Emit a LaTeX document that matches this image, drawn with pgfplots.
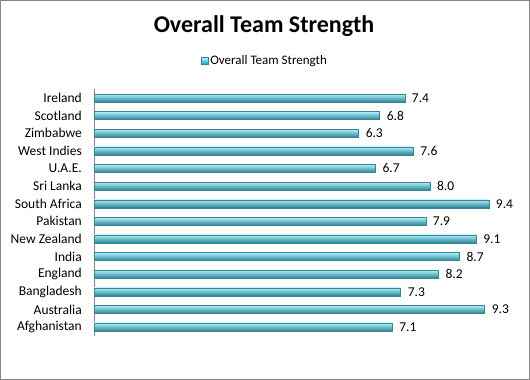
\documentclass[border=0pt]{standalone}
\usepackage{pgfplots}
\pgfplotsset{compat=1.18}
\usepackage{fontspec}
\setmainfont{Carlito}
\definecolor{barTop}{RGB}{175,240,250}
\definecolor{barMid}{RGB}{85,208,228}
\definecolor{barBot}{RGB}{45,130,148}
\definecolor{barEdge}{RGB}{50,135,150}
\definecolor{frameGray}{RGB}{134,134,134}
\definecolor{axisGray}{RGB}{134,134,134}
\begin{document}
\begin{tikzpicture}[x=1pt,y=1pt]
\useasboundingbox (0,0) rectangle (530,380);
\draw[frameGray, line width=1pt] (0.5,0.5) rectangle (529.5,379.5);
\node[font=\fontsize{24}{28}\selectfont\bfseries] at (264,354) {Overall Team Strength};
\begin{axis}[
  at={(94pt,44.2pt)}, anchor=south west,
  scale only axis, width=420pt, height=246.6pt,
  xmin=0, xmax=10, ymin=-0.5, ymax=13.5,
  axis x line=none, axis y line=left,
  y axis line style={-, draw=axisGray, line width=0.8pt},
  ytick={0,...,13},
  yticklabels={Afghanistan,Australia,Bangladesh,England,India,New Zealand,Pakistan,South Africa,Sri Lanka,U.A.E.,West Indies,Zimbabwe,Scotland,Ireland},
  major tick length=0pt,
  yticklabel style={font=\fontsize{13.5}{15}\selectfont, inner sep=0pt, xshift=-12pt, text=black},
  xbar, bar width=8pt, bar shift=0pt,
  nodes near coords,
  nodes near coords style={font=\fontsize{13.5}{15}\selectfont, anchor=west, inner sep=0pt, xshift=7pt,
    /pgf/number format/fixed, /pgf/number format/fixed zerofill, /pgf/number format/precision=1,
    /pgf/number format/assume math mode=true},
  legend style={at={(0.407,1.114)}, anchor=center, draw=none, fill=none, font=\fontsize{13}{15}\selectfont, inner sep=1pt},
  legend image code/.code={\draw[draw=barEdge, line width=0.3pt, top color=barTop, bottom color=barBot, middle color=barMid] (0pt,-3.5pt) rectangle (7pt,3.5pt);},
  cyl/.style={draw=barEdge, line width=0.3pt, top color=barTop, middle color=barMid, bottom color=barBot},
]
\addplot[cyl] coordinates {(7.1,0)};
\addlegendentry{Overall Team Strength}
\addplot[cyl, forget plot] coordinates {(9.3,1)};
\addplot[cyl, forget plot] coordinates {(7.3,2)};
\addplot[cyl, forget plot] coordinates {(8.2,3)};
\addplot[cyl, forget plot] coordinates {(8.7,4)};
\addplot[cyl, forget plot] coordinates {(9.1,5)};
\addplot[cyl, forget plot] coordinates {(7.9,6)};
\addplot[cyl, forget plot] coordinates {(9.4,7)};
\addplot[cyl, forget plot] coordinates {(8.0,8)};
\addplot[cyl, forget plot] coordinates {(6.7,9)};
\addplot[cyl, forget plot] coordinates {(7.6,10)};
\addplot[cyl, forget plot] coordinates {(6.3,11)};
\addplot[cyl, forget plot] coordinates {(6.8,12)};
\addplot[cyl, forget plot] coordinates {(7.4,13)};
\end{axis}
\end{tikzpicture}
\end{document}
